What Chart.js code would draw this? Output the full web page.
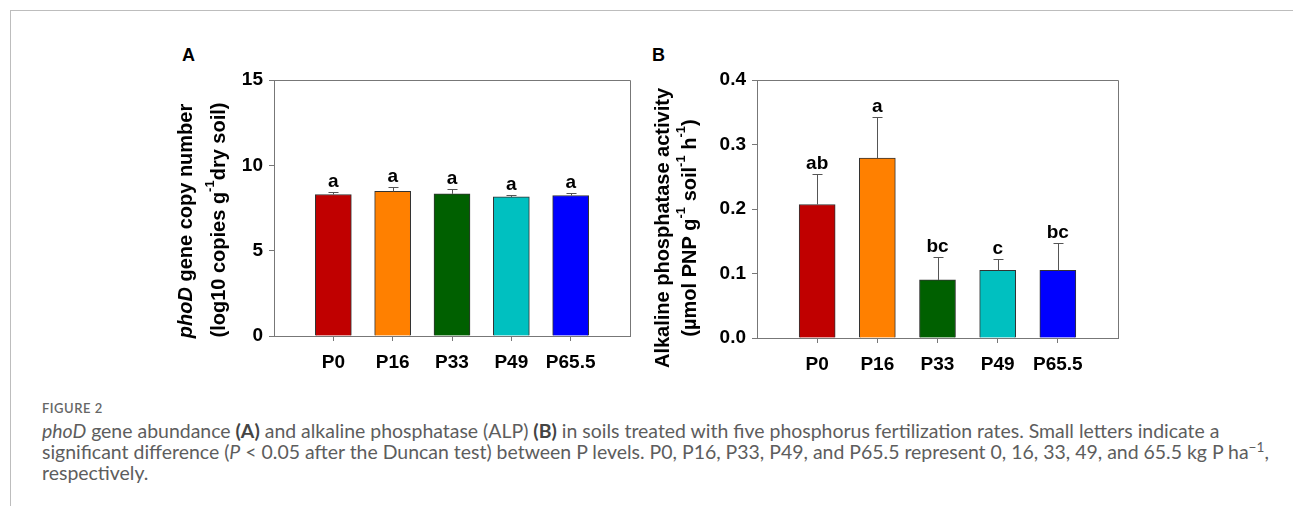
<!DOCTYPE html>
<html>
<head>
<meta charset="utf-8">
<script src="https://cdn.jsdelivr.net/npm/chart.js@4.4.0/dist/chart.umd.min.js"></script>
<style>
  body { margin: 0; background: #fff; width: 1293px; height: 513px; position: relative; overflow: hidden; }
  .rule-top { position: absolute; left: 10px; top: 10px; width: 1283px; border-top: 1px solid #bdbdbd; }
  .rule-left { position: absolute; left: 10px; top: 10px; height: 496px; border-left: 1px solid #bdbdbd; }
  canvas { position: absolute; }
  .panel { position: absolute; font: bold 18px 'Liberation Sans', Arial, sans-serif; color: #000; }
  .fig { position: absolute; left: 42px; top: 400px; font: 600 13px Lato, sans-serif; letter-spacing: 0.5px; color: #666; }
  .cap { position: absolute; left: 42px; top: 420px; font-family: Lato, sans-serif; font-size: 16px; line-height: 21px; color: #5d5d5d; white-space: nowrap; }
  .cap b { font-weight: 700; color: #444; }
  .cap sup { font-size: 0.7em; line-height: 0; }
</style>
</head>
<body>
<div class="rule-top"></div>
<div class="rule-left"></div>
<div class="panel" style="left:182px;top:45px">A</div>
<div class="panel" style="left:652px;top:45px">B</div>
<canvas id="chartA" width="500" height="340" style="left:150px;top:40px;width:500px;height:340px"></canvas>
<canvas id="chartB" width="500" height="340" style="left:640px;top:40px;width:500px;height:340px"></canvas>
<div class="fig">FIGURE 2</div>
<div class="cap" id="cap">
  <span id="l1"><i>phoD</i> gene abundance <b>(A)</b> and alkaline phosphatase (ALP) <b>(B)</b> in soils treated with five phosphorus fertilization rates. Small letters indicate a</span><br>
  <span>significant difference (<i>P</i> &lt; 0.05 after the Duncan test) between P levels. P0, P16, P33, P49, and P65.5 represent 0, 16, 33, 49, and 65.5 kg P ha<sup>−1</sup>,</span><br>
  <span>respectively.</span>
</div>
<script>
// data
const levels = ['P0', 'P16', 'P33', 'P49', 'P65.5'];
const barColors = ['#C00000', '#FF8000', '#006000', '#00C0C0', '#0000FF'];
const phoD = [8.29, 8.47, 8.33, 8.15, 8.23];
const phoDErr = [0.12, 0.27, 0.26, 0.14, 0.16];
const phoDLetters = ['a', 'a', 'a', 'a', 'a'];
const alp = [0.207, 0.279, 0.090, 0.105, 0.105];
const alpErr = [0.048, 0.064, 0.035, 0.017, 0.043];
const alpLetters = ['ab', 'a', 'bc', 'c', 'bc'];

const ARIAL = "'Liberation Sans', Arial, sans-serif";

// fit caption width to the original
const l1 = document.getElementById('l1');
const capEl = document.getElementById('cap');
capEl.style.fontSize = (16 * 1178 / l1.getBoundingClientRect().width) + 'px';

// draw a rotated line made of several runs (italic / superscript parts)
function drawRuns(ctx, runs, cx, cy) {
  ctx.save();
  ctx.translate(cx, cy);
  ctx.rotate(-Math.PI / 2);
  ctx.textBaseline = 'middle';
  ctx.textAlign = 'left';
  ctx.fillStyle = '#000';
  let total = 0;
  runs.forEach(r => { ctx.font = r.font; total += ctx.measureText(r.t).width; });
  let x = -total / 2;
  runs.forEach(r => {
    ctx.font = r.font;
    ctx.fillText(r.t, x, r.dy || 0);
    x += ctx.measureText(r.t).width;
  });
  ctx.restore();
}

const B20 = 'bold 20px ' + ARIAL;
const I20 = 'italic bold 20px ' + ARIAL;
const SUP = 'bold 13px ' + ARIAL;

function decorations(titles) {
  return {
    id: 'decorations',
    afterDatasetsDraw(chart) {
      const { ctx, chartArea: a, scales: { y } } = chart;
      const ds = chart.data.datasets[0];
      const meta = chart.getDatasetMeta(0);
      ctx.save();
      // top and right frame
      ctx.strokeStyle = '#777';
      ctx.lineWidth = 1;
      ctx.beginPath();
      ctx.moveTo(a.left, a.top + 0.5);
      ctx.lineTo(a.right + 0.5, a.top + 0.5);
      ctx.lineTo(a.right + 0.5, a.bottom);
      ctx.stroke();
      // error bars + significance letters
      meta.data.forEach((bar, i) => {
        const v = ds.data[i];
        if (v == null) return;
        const top = Math.round(y.getPixelForValue(v + ds.errors[i])) + 0.5;
        const x = Math.round(bar.x) + 0.5;
        ctx.strokeStyle = '#555';
        ctx.beginPath();
        ctx.moveTo(x, bar.y);
        ctx.lineTo(x, top);
        ctx.moveTo(x - 5, top);
        ctx.lineTo(x + 5, top);
        ctx.stroke();
        ctx.fillStyle = '#000';
        ctx.font = 'bold 19px ' + ARIAL;
        ctx.textAlign = 'center';
        ctx.textBaseline = 'alphabetic';
        ctx.fillText(ds.letters[i], bar.x, top - 6);
      });
      ctx.restore();
      titles.forEach(t => drawRuns(ctx, t.runs, t.x, t.y));
    }
  };
}

function makeChart(id, values, errors, letters, opt) {
  const pad = v => [null, ...v, null];
  return new Chart(document.getElementById(id), {
    type: 'bar',
    data: {
      labels: ['', ...levels, ''],
      datasets: [{
        data: pad(values),
        errors: pad(errors),
        letters: pad(letters),
        backgroundColor: ['transparent', ...barColors, 'transparent'],
        borderColor: '#333',
        borderWidth: 1,
        borderSkipped: 'bottom',
        barThickness: 36
      }]
    },
    options: {
      responsive: false,
      animation: false,
      devicePixelRatio: 1,
      layout: { padding: { left: 0, right: opt.right, top: 40, bottom: 0 } },
      plugins: { legend: { display: false }, tooltip: { enabled: false } },
      scales: {
        x: {
          offset: false,
          grid: {
            offset: false,
            drawOnChartArea: false,
            tickLength: 5,
            color: c => (c.index === 0 || c.index === levels.length + 1) ? 'rgba(0,0,0,0)' : '#777'
          },
          border: { color: '#777', width: 1 },
          ticks: { autoSkip: false, maxRotation: 0, padding: 10, color: '#000', font: { family: ARIAL, size: 19, weight: 'bold' } },
          afterFit: s => { s.height = opt.xHeight; }
        },
        y: {
          min: 0,
          max: opt.max,
          ticks: {
            stepSize: opt.step,
            padding: 6,
            color: '#000',
            font: { family: ARIAL, size: 19, weight: 'bold' },
            callback: v => v.toFixed(opt.decimals)
          },
          grid: { drawOnChartArea: false, tickLength: 5, color: '#777' },
          border: { color: '#777', width: 1 },
          afterFit: s => { s.width = opt.yWidth; }
        }
      }
    },
    plugins: [decorations(opt.titles)]
  });
}

makeChart('chartA', phoD, phoDErr, phoDLetters, {
  max: 15, step: 5, decimals: 0, right: 20, xHeight: 44, yWidth: 124,
  titles: [
    { x: 36, y: 181, runs: [{ t: 'phoD', font: I20 }, { t: ' gene copy number', font: B20 }] },
    { x: 69, y: 180, runs: [{ t: '(log10 copies g', font: B20 }, { t: '-1', font: SUP, dy: -9 }, { t: 'dry soil)', font: B20 }] }
  ]
});

makeChart('chartB', alp, alpErr, alpLetters, {
  max: 0.4, step: 0.1, decimals: 1, right: 22, xHeight: 42, yWidth: 117,
  titles: [
    { x: 23, y: 188, runs: [{ t: 'Alkaline phosphatase activity', font: B20 }] },
    { x: 50, y: 188, runs: [
      { t: '(µmol PNP g', font: B20 }, { t: '-1', font: SUP, dy: -9 },
      { t: ' soil', font: B20 }, { t: '-1', font: SUP, dy: -9 },
      { t: ' h', font: B20 }, { t: '-1', font: SUP, dy: -9 }, { t: ')', font: B20 }
    ] }
  ]
});
</script>
</body>
</html>
